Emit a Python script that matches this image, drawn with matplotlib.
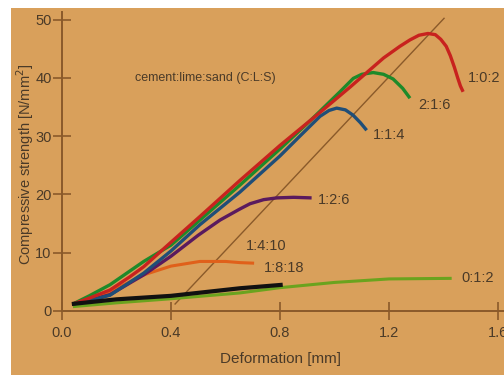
import matplotlib
matplotlib.use("Agg")
import matplotlib.pyplot as plt
from matplotlib.patches import Rectangle

plt.rcParams['font.family'] = ['Liberation Sans', 'DejaVu Sans']

# ---- data (deformation mm, compressive strength N/mm^2) ----
x_102 = [0.04, 0.10, 0.176, 0.25, 0.30, 0.40, 0.506, 0.653, 0.80, 0.935, 1.057, 1.18, 1.24, 1.277, 1.31, 1.343, 1.37, 1.39, 1.41, 1.425, 1.44, 1.452, 1.462, 1.472]
y_102 = [1.2, 2.2, 3.6, 5.9, 7.6, 11.8, 16.2, 22.4, 28.4, 33.6, 38.4, 43.4, 45.4, 46.5, 47.3, 47.6, 47.4, 46.6, 45.4, 43.8, 41.8, 40.0, 38.6, 37.6]

x_216 = [0.04, 0.10, 0.176, 0.30, 0.40, 0.506, 0.653, 0.80, 0.91, 1.02, 1.069, 1.10, 1.142, 1.18, 1.215, 1.25, 1.277]
y_216 = [1.2, 2.6, 4.5, 8.5, 11.3, 15.6, 21.6, 27.8, 32.6, 37.6, 39.9, 40.6, 40.9, 40.6, 39.8, 38.2, 36.5]

x_114 = [0.04, 0.10, 0.176, 0.30, 0.40, 0.506, 0.653, 0.80, 0.873, 0.947, 0.98, 1.008, 1.04, 1.068, 1.095, 1.118]
y_114 = [1.2, 1.8, 2.7, 6.5, 10.3, 14.8, 20.4, 26.6, 30.0, 33.4, 34.4, 34.8, 34.5, 33.6, 32.3, 31.0]

x_126 = [0.04, 0.10, 0.176, 0.30, 0.40, 0.50, 0.58, 0.653, 0.69, 0.74, 0.788, 0.85, 0.916]
y_126 = [1.2, 1.8, 2.8, 6.2, 9.4, 13.0, 15.6, 17.5, 18.4, 19.1, 19.4, 19.5, 19.4]

x_1410 = [0.04, 0.10, 0.176, 0.30, 0.40, 0.506, 0.60, 0.653, 0.705]
y_1410 = [1.2, 2.0, 3.3, 6.2, 7.7, 8.5, 8.5, 8.3, 8.2]

x_1818 = [0.036, 0.20, 0.40, 0.653, 0.81]
y_1818 = [1.2, 2.0, 2.6, 3.9, 4.5]

x_012 = [0.04, 0.20, 0.40, 0.653, 0.80, 1.00, 1.20, 1.43]
y_012 = [0.75, 1.4, 2.1, 3.1, 4.0, 4.9, 5.5, 5.6]

x_ref = [0.415, 1.402]
y_ref = [1.2, 50.2]

labels = ["1:0:2", "2:1:6", "1:1:4", "1:2:6", "1:4:10", "1:8:18", "0:1:2"]
label_x = [1.49, 1.307, 1.14, 0.94, 0.675, 0.742, 1.464]
label_y = [40.0, 35.3, 30.2, 19.0, 11.2, 7.4, 5.6]
x_ticks = [0.0, 0.4, 0.8, 1.2, 1.6]
x_ticklabels = ["0.0", "0.4", "0.8", "1.2", "1.6"]
y_ticks = [0, 10, 20, 30, 40, 50]

W, H = 504, 376
fig = plt.figure(figsize=(W / 100, H / 100), dpi=100)
fig.patch.set_facecolor('white')
bg = '#D9A05B'
fig.patches.append(Rectangle((11 / W, 1 / H), (W - 11) / W, (H - 9) / H,
                             transform=fig.transFigure, facecolor=bg,
                             edgecolor='none', zorder=-10))

ax = fig.add_axes([62 / W, (H - 311) / H, (W - 62) / W, (311 - 12) / H])
ax.set_facecolor('none')
ax.set_xlim(0, (W - 62) / 272.5)
ax.set_ylim(0, 299 / 5.83)

axc = '#8A5A2A'
txt = '#4A3A28'
ax.plot(x_ref, y_ref, color='#8A5A2A', lw=1.0, zorder=2)
ax.plot(x_012, y_012, color='#6BA31E', lw=2.2, solid_capstyle='butt', zorder=3)
ax.plot(x_1818, y_1818, color='#111111', lw=3.0, solid_capstyle='butt', zorder=4)
ax.plot(x_1410, y_1410, color='#E0601A', lw=2.2, solid_capstyle='butt', zorder=3)
ax.plot(x_126, y_126, color='#5A1A5E', lw=2.4, solid_capstyle='butt', zorder=3)
ax.plot(x_114, y_114, color='#1F4E78', lw=2.4, solid_capstyle='butt', zorder=3)
ax.plot(x_216, y_216, color='#1E8A2A', lw=2.4, solid_capstyle='butt', zorder=3)
ax.plot(x_102, y_102, color='#C8221E', lw=2.4, solid_capstyle='butt', zorder=3)

for s in ['top', 'right']:
    ax.spines[s].set_visible(False)
for s in ['left', 'bottom']:
    ax.spines[s].set_color(axc)
    ax.spines[s].set_linewidth(1.4)

ax.set_xticks(x_ticks)
ax.set_xticklabels(x_ticklabels)
ax.set_yticks(y_ticks)
ax.tick_params(axis='both', direction='inout', length=13, width=1.2,
               color=axc, labelcolor=txt, labelsize=10.5)
ax.tick_params(axis='x', pad=4)
ax.tick_params(axis='y', pad=1)

for lab, lx, ly in zip(labels, label_x, label_y):
    ax.text(lx, ly, lab, fontsize=10.5, color=txt, va='center', ha='left')
ax.text(0.268, 40.0, "cement:lime:sand (C:L:S)", fontsize=9, color=txt,
        va='center', ha='left')

ax.set_xlabel("Deformation [mm]", fontsize=11, color=txt)
ax.xaxis.set_label_coords((280 - 62) / 442, (311 - 352) / 299)
ax.set_ylabel("Compressive strength [N/mm$^2$]", fontsize=10.5, color=txt)
ax.yaxis.set_label_coords((36 - 62) / 442, (311 - 164) / 299)

fig.savefig("out.png", dpi=100, facecolor=fig.get_facecolor())
